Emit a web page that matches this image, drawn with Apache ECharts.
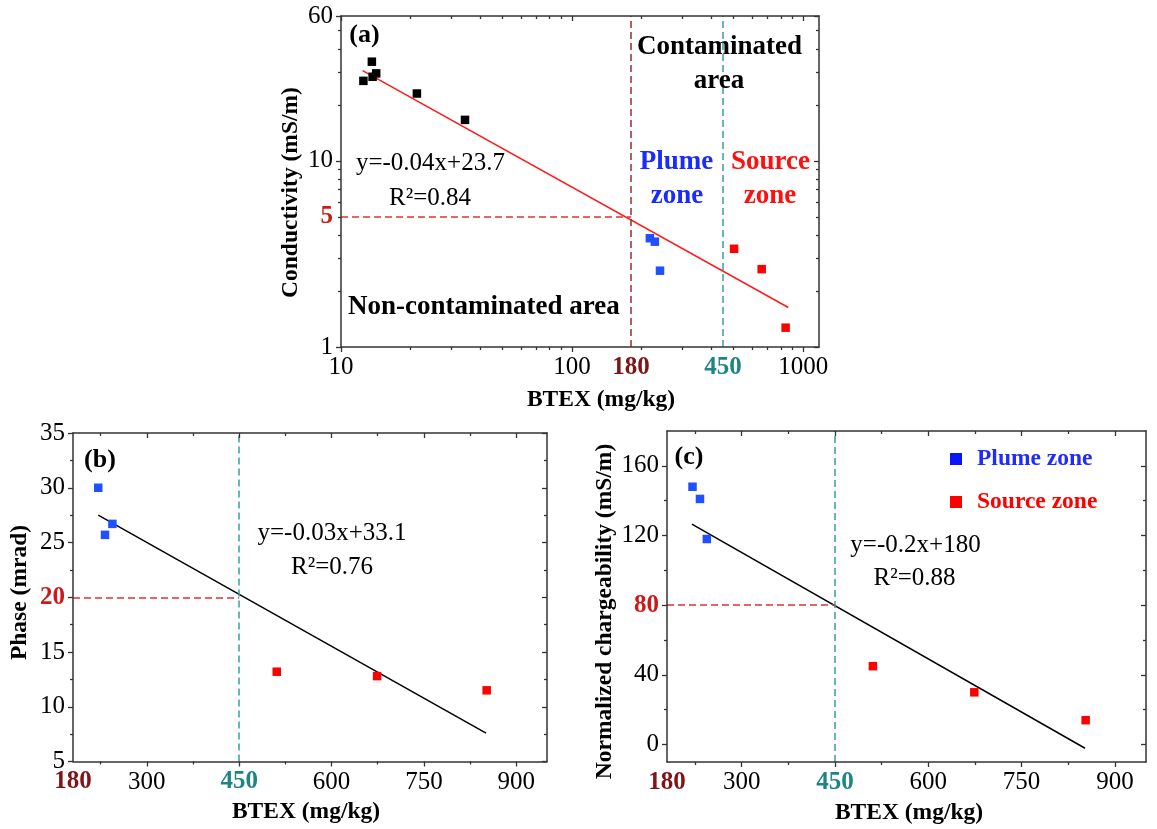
<!DOCTYPE html>
<html><head><meta charset="utf-8">
<script src="https://cdn.jsdelivr.net/npm/echarts@6/dist/echarts.min.js"></script>
<style>html,body{margin:0;padding:0;background:#fff}#c{width:1157px;height:829px}</style>
</head><body><div id="c"></div>
<script>
// ---------------- data ----------------
// Panel (a): Conductivity vs BTEX (log-log)
const aNonX = [12.5, 13.6, 13.7, 14.2, 21.3, 34.4];
const aNonY = [26.9, 34.1, 28.3, 29.5, 23.0, 16.6];
const aPlumeX = [217, 228, 240];
const aPlumeY = [3.84, 3.68, 2.57];
const aSourceX = [502, 661, 839];
const aSourceY = [3.37, 2.62, 1.27];
const aFitX = [12.4, 862];
const aFitY = [30.5, 1.63];
// Panel (b): Phase vs BTEX
const bPlumeX = [221, 232, 244];
const bPlumeY = [30.0, 25.7, 26.7];
const bSourceX = [511, 674, 852];
const bSourceY = [13.2, 12.8, 11.5];
const bFitX = [221, 851];
const bFitY = [27.5, 7.6];
// Panel (c): Normalized chargeability vs BTEX
const cPlumeX = [221, 233, 244];
const cPlumeY = [148, 141, 118];
const cSourceX = [511, 674, 853];
const cSourceY = [45, 30, 14];
const cFitX = [220, 852];
const cFitY = [126.6, -2.1];
// thresholds
const btexLow = 180, btexHigh = 450;
const condThr = 5, phaseThr = 20, chargThr = 80;
// axis ranges
const aXRange = [10, 1170], aYRange = [1, 60];
const bcXRange = [180, 950];
const bYRange = [5, 35], cYRange = [-10, 180];
// tick values / labels
const aXMajor = [10, 100, 1000];
const aXMinor = [20, 30, 40, 50, 60, 70, 80, 90, 200, 300, 400, 500, 600, 700, 800, 900];
const aXLabels = [10, 100, 180, 450, 1000];
const aYMajor = [1, 10, 60];
const aYMinor = [2, 3, 4, 5, 6, 7, 8, 9, 20, 30, 40, 50];
const aYLabels = [1, 5, 10, 60];
const bcXMajor = [300, 450, 600, 750, 900];
const bcXMinor = [225, 375, 525, 675, 825];
const bcXLabels = [180, 300, 450, 600, 750, 900];
const bYMajor = [5, 10, 15, 20, 25, 30, 35];
const bYMinor = [7.5, 12.5, 17.5, 22.5, 27.5, 32.5];
const cYMajor = [0, 40, 80, 120, 160];
const cYMinor = [20, 60, 100, 140];

// ---------------- styling helpers ----------------
const FONT = "'Liberation Serif','Times New Roman',Times,serif";
const AXC = '#333333';
const TICKFS = 25;
const RICH = {
  r: {color: '#7f1518', fontWeight: 'bold', fontSize: TICKFS, fontFamily: FONT},
  t: {color: '#1d8585', fontWeight: 'bold', fontSize: TICKFS, fontFamily: FONT},
  e: {color: '#cc1a1a', fontWeight: 'bold', fontSize: TICKFS, fontFamily: FONT}
};
const lg = v => Math.log10(v);

function makeFmt(special, isLog) {
  return function (v) {
    const raw = isLog ? Math.round(Math.pow(10, v) * 1000) / 1000 : v;
    const k = special[raw];
    return k ? '{' + k + '|' + raw + '}' : String(raw);
  };
}

const xAxes = [], yAxes = [];
function add(list, o) { list.push(o); return list.length - 1; }

function overlay(g, pos, range, ticks, len, inside, labels, fmt, line) {
  return {
    type: 'value', gridIndex: g, position: pos, min: range[0], max: range[1], silent: true, z: 10,
    axisLine: {show: line, onZero: false, lineStyle: {color: AXC, width: 1.5}},
    axisTick: {show: true, inside: inside, length: len, customValues: ticks, lineStyle: {color: AXC, width: 1.3}},
    axisLabel: labels ? {show: true, customValues: labels, formatter: fmt, margin: 8, fontFamily: FONT,
      fontSize: TICKFS, color: '#000', rich: RICH, showMinLabel: true, showMaxLabel: true, hideOverlap: false}
      : {show: false},
    splitLine: {show: false}, splitArea: {show: false}, minorTick: {show: false}, minorSplitLine: {show: false}
  };
}
function frame(g, xr, yr, xs, ys) {
  add(xAxes, overlay(g, 'bottom', xr, xs.major, 5, false, xs.labels, xs.fmt, true));
  add(xAxes, overlay(g, 'bottom', xr, xs.minor, 3, false, null, null, false));
  add(xAxes, overlay(g, 'top', xr, xs.major, 5, true, null, null, true));
  add(xAxes, overlay(g, 'top', xr, xs.minor, 3, true, null, null, false));
  add(yAxes, overlay(g, 'left', yr, ys.major, 5, false, ys.labels, ys.fmt, true));
  add(yAxes, overlay(g, 'left', yr, ys.minor, 3, false, null, null, false));
  add(yAxes, overlay(g, 'right', yr, ys.major, 5, true, null, null, true));
  add(yAxes, overlay(g, 'right', yr, ys.minor, 3, true, null, null, false));
}

// data axes (hidden)
const ax0 = add(xAxes, {type: 'log', logBase: 10, gridIndex: 0, min: aXRange[0], max: aXRange[1], show: false});
const ay0 = add(yAxes, {type: 'log', logBase: 10, gridIndex: 0, min: aYRange[0], max: aYRange[1], show: false});
const ax1 = add(xAxes, {type: 'value', gridIndex: 1, min: bcXRange[0], max: bcXRange[1], show: false});
const ay1 = add(yAxes, {type: 'value', gridIndex: 1, min: bYRange[0], max: bYRange[1], show: false});
const ax2 = add(xAxes, {type: 'value', gridIndex: 2, min: bcXRange[0], max: bcXRange[1], show: false});
const ay2 = add(yAxes, {type: 'value', gridIndex: 2, min: cYRange[0], max: cYRange[1], show: false});

// visible frames
frame(0, aXRange.map(lg), aYRange.map(lg),
  {major: aXMajor.map(lg), minor: aXMinor.map(lg), labels: aXLabels.map(lg), fmt: makeFmt({180: 'r', 450: 't'}, true)},
  {major: aYMajor.map(lg), minor: aYMinor.map(lg), labels: aYLabels.map(lg), fmt: makeFmt({5: 'e'}, true)});
frame(1, bcXRange, bYRange,
  {major: bcXMajor, minor: bcXMinor, labels: bcXLabels, fmt: makeFmt({180: 'r', 450: 't'}, false)},
  {major: bYMajor, minor: bYMinor, labels: bYMajor, fmt: makeFmt({20: 'e'}, false)});
frame(2, bcXRange, cYRange,
  {major: bcXMajor, minor: bcXMinor, labels: bcXLabels, fmt: makeFmt({180: 'r', 450: 't'}, false)},
  {major: cYMajor, minor: cYMinor, labels: cYMajor, fmt: makeFmt({80: 'e'}, false)});

const zip = (xs, ys) => xs.map((x, i) => [x, ys[i]]);
const BLUE = '#2050ff', RED = '#ff0000';
const DARKRED_LINE = '#9b2d30', TEAL_LINE = '#3a9e9e', RED_LINE = '#dd3333';
const dash = (c) => ({color: c, type: [7, 4], width: 1.5});

function scatter(name, xi, yi, data, color) {
  return {name, type: 'scatter', xAxisIndex: xi, yAxisIndex: yi, data, symbol: 'rect', symbolSize: 8.5,
    itemStyle: {color, opacity: 1}, z: 4, silent: true};
}
function fit(xi, yi, data, color, ml) {
  return {type: 'line', xAxisIndex: xi, yAxisIndex: yi, data, symbol: 'none', z: 3, silent: true,
    lineStyle: {color, width: 1.5},
    markLine: {silent: true, symbol: ['none', 'none'], label: {show: false}, animation: false, data: ml}};
}

const series = [
  fit(ax0, ay0, zip(aFitX, aFitY), '#ff1a1a', [
    {xAxis: btexLow, lineStyle: dash(DARKRED_LINE)},
    {xAxis: btexHigh, lineStyle: dash(TEAL_LINE)},
    [{coord: [aXRange[0], condThr], lineStyle: dash(RED_LINE)}, {coord: [btexLow, condThr]}]
  ]),
  scatter('Non-contaminated', ax0, ay0, zip(aNonX, aNonY), '#000'),
  scatter('Plume zone', ax0, ay0, zip(aPlumeX, aPlumeY), BLUE),
  scatter('Source zone', ax0, ay0, zip(aSourceX, aSourceY), RED),

  fit(ax1, ay1, zip(bFitX, bFitY), '#000', [
    {xAxis: btexHigh, lineStyle: dash(TEAL_LINE)},
    [{coord: [bcXRange[0], phaseThr], lineStyle: dash(RED_LINE)}, {coord: [btexHigh, phaseThr]}]
  ]),
  scatter('Plume zone', ax1, ay1, zip(bPlumeX, bPlumeY), BLUE),
  scatter('Source zone', ax1, ay1, zip(bSourceX, bSourceY), RED),

  fit(ax2, ay2, zip(cFitX, cFitY), '#000', [
    {xAxis: btexHigh, lineStyle: dash(TEAL_LINE)},
    [{coord: [bcXRange[0], chargThr], lineStyle: dash(RED_LINE)}, {coord: [btexHigh, chargThr]}]
  ]),
  scatter('Plume zone', ax2, ay2, zip(cPlumeX, cPlumeY), BLUE),
  scatter('Source zone', ax2, ay2, zip(cSourceX, cSourceY), RED)
];

function txt(x, y, text, size, color, bold, rot) {
  return {type: 'text', x, y, rotation: rot || 0, silent: true, z: 20,
    style: {text, fill: color || '#000', font: (bold ? 'bold ' : '') + size + 'px ' + FONT,
      align: 'center', verticalAlign: 'middle', textAlign: 'center', textVerticalAlign: 'middle'}};
}
const TB = 27, TE = 25, TT = 23.5;
const graphics = [
  // panel (a)
  txt(364.5, 35, '(a)', 26, '#000', true),
  txt(719.5, 47, 'Contaminated', TB, '#000', true),
  txt(719, 81, 'area', TB, '#000', true),
  txt(676.6, 162.5, 'Plume', TB, '#1a2bff', true),
  txt(677, 196, 'zone', TB, '#1a2bff', true),
  txt(770.4, 162.5, 'Source', TB, '#ff1010', true),
  txt(770, 196, 'zone', TB, '#ff1010', true),
  txt(430.4, 163.5, 'y=-0.04x+23.7', TE, '#000', false),
  txt(430, 198.5, 'R²=0.84', TE, '#000', false),
  txt(483.8, 307.5, 'Non-contaminated area', TB, '#000', true),
  txt(601, 400, 'BTEX (mg/kg)', TT, '#000', true),
  txt(290.5, 192.5, 'Conductivity (mS/m)', TT, '#000', true, Math.PI / 2),
  // panel (b)
  txt(100, 460, '(b)', 26, '#000', true),
  txt(332, 533.3, 'y=-0.03x+33.1', TE, '#000', false),
  txt(332, 567, 'R²=0.76', TE, '#000', false),
  txt(306, 811.7, 'BTEX (mg/kg)', TT, '#000', true),
  txt(19.6, 592.5, 'Phase (mrad)', TT, '#000', true, Math.PI / 2),
  // panel (c)
  txt(689, 457.5, '(c)', 26, '#000', true),
  txt(915.5, 545, 'y=-0.2x+180', TE, '#000', false),
  txt(914.6, 578.3, 'R²=0.88', TE, '#000', false),
  txt(909, 813, 'BTEX (mg/kg)', TT, '#000', true),
  txt(604.7, 611.5, 'Normalized chargeability (mS/m)', TT, '#000', true, Math.PI / 2)
];

const chart = echarts.init(document.getElementById('c'), null, {renderer: 'canvas'});
chart.setOption({
  backgroundColor: '#fff',
  animation: false,
  textStyle: {fontFamily: FONT},
  grid: [
    {left: 341, top: 16, width: 478, height: 331, containLabel: false, outerBoundsMode: 'none'},
    {left: 73, top: 433, width: 474, height: 328.5, containLabel: false, outerBoundsMode: 'none'},
    {left: 667, top: 431, width: 479, height: 331, containLabel: false, outerBoundsMode: 'none'}
  ],
  xAxis: xAxes,
  yAxis: yAxes,
  legend: {
    orient: 'vertical', left: 945, top: 442, itemWidth: 12, itemHeight: 12, itemGap: 19, icon: 'rect',
    selectedMode: false,
    textStyle: {fontFamily: FONT, fontSize: 23.5, fontWeight: 'bold', padding: [0, 0, 0, 10]},
    data: [
      {name: 'Plume zone', itemStyle: {color: '#0a14ff'}, textStyle: {color: '#1f2bff'}},
      {name: 'Source zone', itemStyle: {color: '#ff0000'}, textStyle: {color: '#ff0000'}}
    ]
  },
  series: series,
  graphic: graphics
});
</script></body></html>
